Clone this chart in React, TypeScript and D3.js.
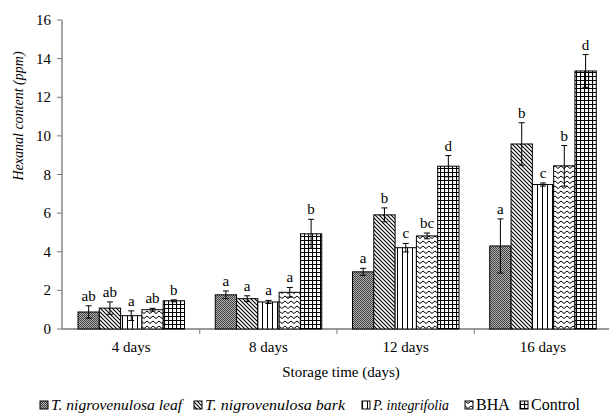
import React from 'react';
import * as d3 from 'd3';

// storage time groups
const days = ['4 days', '8 days', '12 days', '16 days'];
const treatments = ['T. nigrovenulosa leaf', 'T. nigrovenulosa bark', 'P. integrifolia', 'BHA', 'Control'];

// mean hexanal content (ppm) per treatment, one value per storage time
const leaf = [0.88, 1.77, 2.96, 4.3];
const bark = [1.08, 1.57, 5.91, 9.58];
const integrifolia = [0.69, 1.4, 4.21, 7.48];
const bha = [1.0, 1.9, 4.82, 8.45];
const control = [1.46, 4.93, 8.43, 13.36];

// standard errors
const leafErr = [0.32, 0.2, 0.18, 1.4];
const barkErr = [0.32, 0.15, 0.36, 1.1];
const integrifoliaErr = [0.25, 0.08, 0.22, 0.08];
const bhaErr = [0.07, 0.25, 0.15, 1.05];
const controlErr = [0.05, 0.75, 0.55, 0.85];

// significance letters
const leafLetters = ['ab', 'a', 'a', 'a'];
const barkLetters = ['ab', 'a', 'b', 'b'];
const integrifoliaLetters = ['a', 'a', 'c', 'c'];
const bhaLetters = ['ab', 'a', 'bc', 'b'];
const controlLetters = ['b', 'b', 'd', 'd'];

const yTicks = [0, 2, 4, 6, 8, 10, 12, 14, 16];

const series = [
  { name: treatments[0], values: leaf, err: leafErr, letters: leafLetters, fill: 'url(#pLeaf)' },
  { name: treatments[1], values: bark, err: barkErr, letters: barkLetters, fill: 'url(#pBark)' },
  { name: treatments[2], values: integrifolia, err: integrifoliaErr, letters: integrifoliaLetters, fill: 'url(#pInt)' },
  { name: treatments[3], values: bha, err: bhaErr, letters: bhaLetters, fill: 'url(#pBha)' },
  { name: treatments[4], values: control, err: controlErr, letters: controlLetters, fill: 'url(#pCtrl)' },
];

const font = '"Liberation Serif", "Times New Roman", serif';

const App = () => {
  const width = 609;
  const height = 414;

  const x0 = d3.scaleBand().domain(days).range([62.5, 611.5]);
  const x1 = d3.scaleBand().domain(treatments).range([15.5, 122]);
  const y = d3.scaleLinear().domain([0, 16]).range([329, 20]);

  const axisColor = '#777';

  // legend layout: swatch x and italic text width (upright ones keep natural width)
  const legendX = [40, 194, 362, 465, 520];
  const legendW = [131, 140, 76, 0, 0];

  return (
    <svg width={width} height={height} style={{ position: 'absolute', left: 0, top: 0, background: '#fff' }}>
      <defs>
        <pattern id="pLeaf" width="2" height="2" patternUnits="userSpaceOnUse">
          <rect width="2" height="2" fill="#b0b0b0" />
          <rect width="1" height="1" fill="#444" />
          <rect x="1" y="1" width="1" height="1" fill="#444" />
        </pattern>
        <pattern id="pBark" width="4" height="4" patternUnits="userSpaceOnUse">
          <rect width="4" height="4" fill="#fff" />
          <path d="M0,0 L4,4 M-1,3 L1,5 M3,-1 L5,1" stroke="#000" strokeWidth="1.1" />
        </pattern>
        <pattern id="pInt" width="5" height="5" patternUnits="userSpaceOnUse">
          <rect width="5" height="5" fill="#fff" />
          <path d="M2.5,0 L2.5,5" stroke="#000" strokeWidth="1" />
        </pattern>
        <pattern id="pBha" width="6" height="5" patternUnits="userSpaceOnUse">
          <rect width="6" height="5" fill="#fff" />
          <path d="M0,3.5 L3,1 L6,3.5" stroke="#000" strokeWidth="1" fill="none" />
        </pattern>
        <pattern id="pCtrl" width="4" height="4" patternUnits="userSpaceOnUse">
          <rect width="4" height="4" fill="#fff" />
          <path d="M0,0.5 L4,0.5 M0.5,0 L0.5,4" stroke="#000" strokeWidth="1.2" />
        </pattern>
      </defs>

      {/* y axis */}
      <line x1={62} x2={62} y1={y(16)} y2={y(0)} stroke={axisColor} strokeWidth={1.3} />
      {yTicks.map(t => (
        <g key={t}>
          <line x1={57} x2={62} y1={y(t)} y2={y(t)} stroke={axisColor} strokeWidth={1} />
          <text x={51} y={y(t) + 5} textAnchor="end" fontFamily={font} fontSize={15} fill="#000">{t}</text>
        </g>
      ))}

      {/* x axis */}
      <line x1={62} x2={611} y1={y(0)} y2={y(0)} stroke={axisColor} strokeWidth={1.3} />
      {days.map((d, i) => (
        <g key={d}>
          {i > 0 && <line x1={x0(d)!} x2={x0(d)!} y1={y(0)} y2={y(0) + 5} stroke={axisColor} strokeWidth={1} />}
          <text x={x0(d)! + x0.bandwidth() / 2} y={352} textAnchor="middle" fontFamily={font} fontSize={15}>{d}</text>
        </g>
      ))}

      {/* bars */}
      {series.map(s => (
        <g key={s.name}>
          {days.map((d, i) => {
            const bx = x0(d)! + x1(s.name)!;
            const bw = x1.bandwidth();
            const cx = bx + bw / 2;
            const v = s.values[i];
            const e = s.err[i];
            return (
              <g key={d}>
                <rect x={bx} y={y(v)} width={bw} height={y(0) - y(v)} fill={s.fill} stroke="#000" strokeWidth={1} />
                <line x1={cx} x2={cx} y1={y(v + e)} y2={y(v - e)} stroke="#000" strokeWidth={1} />
                <line x1={cx - 3} x2={cx + 3} y1={y(v + e)} y2={y(v + e)} stroke="#000" strokeWidth={1} />
                <line x1={cx - 3} x2={cx + 3} y1={y(v - e)} y2={y(v - e)} stroke="#000" strokeWidth={1} />
                <text x={cx} y={y(v + e) - 5} textAnchor="middle" fontFamily={font} fontSize={15}>{s.letters[i]}</text>
              </g>
            );
          })}
        </g>
      ))}

      {/* axis titles */}
      <text transform="translate(23,116) rotate(-90)" textAnchor="middle" fontFamily={font} fontStyle="italic" fontSize={14}>
        Hexanal content (ppm)
      </text>
      <text x={341} y={377} textAnchor="middle" fontFamily={font} fontSize={15}>Storage time (days)</text>

      {/* legend */}
      {series.map((s, i) => (
        <g key={s.name}>
          <rect x={legendX[i]} y={401} width={8} height={8} fill={s.fill} stroke="#000" strokeWidth={1} />
          {i < 3 ? (
            <text
              x={legendX[i] + 11}
              y={410}
              fontFamily={font}
              fontSize={15}
              fontStyle="italic"
              textLength={legendW[i]}
              lengthAdjust="spacingAndGlyphs"
            >
              {s.name}
            </text>
          ) : (
            <text x={legendX[i] + 11} y={410} fontFamily={font} fontSize={16}>
              {s.name}
            </text>
          )}
        </g>
      ))}
    </svg>
  );
};

export default App;
